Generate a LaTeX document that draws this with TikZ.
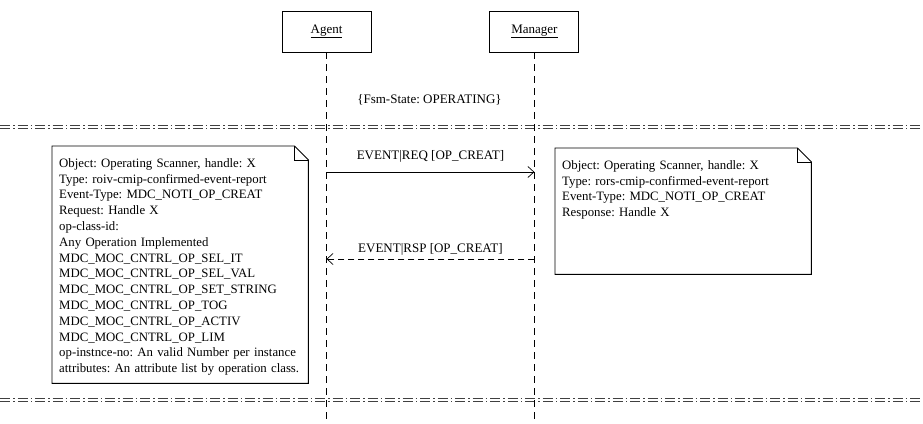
\documentclass[tikz,border=0pt]{standalone}
\usepackage{fontspec}
\setmainfont{Liberation Serif}
\usetikzlibrary{arrows.meta, positioning}

% outline of a note with a folded corner
\newcommand{\foldnote}[1]{%
  \draw[line width=0.9pt] (#1.north west) -- ([xshift=-14pt]#1.north east) -- ([yshift=-14pt]#1.north east) -- (#1.south east) -- (#1.south west) -- cycle;
  \draw[line width=0.6pt] ([xshift=-14pt]#1.north east) |- ([yshift=-14pt]#1.north east);}

\begin{document}
\frenchspacing
\begin{tikzpicture}[
    x=1pt, y=-1pt,
    node distance=118pt,
    every node/.style={font=\fontsize{13}{15.8}\selectfont},
    lifebox/.style={draw, line width=0.9pt, minimum width=89pt, minimum height=41pt},
    lifeline/.style={line width=0.8pt, dash pattern=on 7pt off 5pt},
    note/.style={align=left, anchor=north west, inner xsep=7pt, inner ysep=10pt, text width=242pt, text height=11pt, font=\fontsize{12.8}{15.8}\selectfont},
    sepline/.style={draw=black!75, line width=0.6pt, double, double distance=2.4pt, dash pattern=on 10pt off 3pt on 1.5pt off 3pt},
    msg/.style={-{Straight Barb[length=6pt,width=11pt]}, line width=0.7pt},
    reply/.style={msg, dash pattern=on 6pt off 4pt},
    msglabel/.style={above}
]
\useasboundingbox (0,0) rectangle (923,423);

% Nodes
\node[lifebox] (agent) at (326.5,31.5) {\underline{Agent}};
\node[lifebox, right=of agent] (manager) {\underline{Manager}};
\node (fsm) at (429.5,100) {\{Fsm-State: OPERATING\}};

\node[note, text depth=206pt] (reqnote) at (52,146) {Object: Operating Scanner, handle: X\\
Type: roiv-cmip-confirmed-event-report\\
Event-Type: MDC\_NOTI\_OP\_CREAT\\
Request: Handle X\\
op-class-id:\\
Any Operation Implemented\\
MDC\_MOC\_CNTRL\_OP\_SEL\_IT\\
MDC\_MOC\_CNTRL\_OP\_SEL\_VAL\\
MDC\_MOC\_CNTRL\_OP\_SET\_STRING\\
MDC\_MOC\_CNTRL\_OP\_TOG\\
MDC\_MOC\_CNTRL\_OP\_ACTIV\\
MDC\_MOC\_CNTRL\_OP\_LIM\\
op-instnce-no: An valid Number per instance\\
attributes: An attribute list by operation class.};
\node[note, text depth=95pt] (rspnote) at (555,148) {Object: Operating Scanner, handle: X\\
Type: rors-cmip-confirmed-event-report\\
Event-Type: MDC\_NOTI\_OP\_CREAT\\
Response: Handle X};
\foldnote{reqnote}
\foldnote{rspnote}

% Separators
\draw[sepline] (0,127) -- (923,127);
\draw[sepline] (0,400) -- (923,400);

% Lifelines
\coordinate (bottom) at (0,423);
\draw[lifeline] (agent) -- (agent |- bottom);
\draw[lifeline] (manager) -- (manager |- bottom);

% Arrows
\coordinate (req) at (0,172);
\coordinate (rsp) at (0,259);
\draw[msg] (agent |- req) -- node[msglabel, yshift=6pt] {EVENT|REQ [OP\_CREAT]} (manager |- req);
\draw[reply] (manager |- rsp) -- node[msglabel] {EVENT|RSP [OP\_CREAT]} (agent |- rsp);

\end{tikzpicture}
\end{document}
